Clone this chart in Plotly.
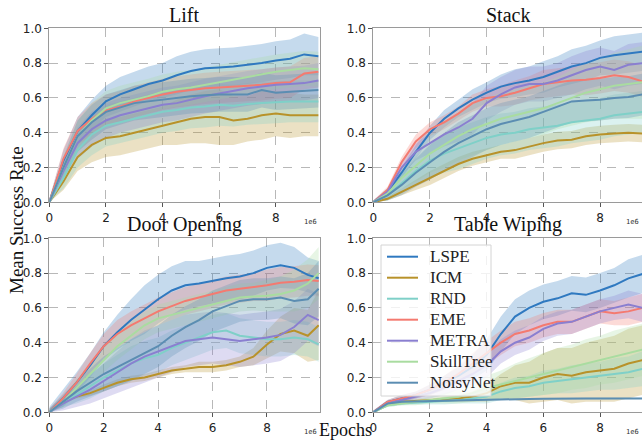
import plotly.graph_objects as go

# ---------------- data ----------------
methods = ["LSPE", "ICM", "RND", "EME", "METRA", "SkillTree", "NoisyNet"]
colors = ["#2f79c0", "#b8922a", "#7fd0c8", "#f47a70", "#8a7fd0", "#a9dca0", "#5b8db2"]

x_common = [0, 0.5, 1, 1.5, 2, 2.5, 3, 3.5, 4, 4.5, 5, 5.5, 6, 6.5, 7, 7.5, 8, 8.5, 9, 9.5]
x_door = [0, 0.5, 1, 1.5, 2, 2.5, 3, 3.5, 4, 4.5, 5, 5.5, 6, 6.5, 7, 7.5, 8, 8.5, 9, 9.5, 9.9]

# Lift
lift_mean = {
    "LSPE":      [0, 0.24, 0.41, 0.50, 0.58, 0.62, 0.65, 0.68, 0.70, 0.73, 0.755, 0.77, 0.775, 0.78, 0.79, 0.80, 0.815, 0.825, 0.85, 0.84],
    "ICM":       [0, 0.12, 0.26, 0.33, 0.37, 0.38, 0.40, 0.42, 0.44, 0.46, 0.48, 0.49, 0.49, 0.47, 0.48, 0.50, 0.51, 0.50, 0.50, 0.50],
    "RND":       [0, 0.14, 0.30, 0.39, 0.44, 0.46, 0.48, 0.50, 0.52, 0.53, 0.545, 0.55, 0.56, 0.555, 0.565, 0.57, 0.575, 0.58, 0.58, 0.58],
    "EME":       [0, 0.25, 0.41, 0.48, 0.53, 0.55, 0.58, 0.60, 0.62, 0.635, 0.645, 0.655, 0.66, 0.665, 0.67, 0.675, 0.685, 0.69, 0.74, 0.75],
    "METRA":     [0, 0.18, 0.34, 0.42, 0.47, 0.50, 0.52, 0.54, 0.56, 0.57, 0.59, 0.61, 0.625, 0.64, 0.655, 0.665, 0.675, 0.68, 0.685, 0.70],
    "SkillTree": [0, 0.20, 0.38, 0.47, 0.54, 0.57, 0.59, 0.61, 0.635, 0.65, 0.66, 0.675, 0.69, 0.705, 0.72, 0.735, 0.75, 0.76, 0.77, 0.765],
    "NoisyNet":  [0, 0.20, 0.38, 0.46, 0.52, 0.545, 0.57, 0.58, 0.59, 0.60, 0.61, 0.615, 0.62, 0.62, 0.62, 0.645, 0.63, 0.635, 0.64, 0.645],
}
lift_std = {
    "LSPE":      [0.02, 0.06, 0.08, 0.09, 0.09, 0.10, 0.10, 0.10, 0.10, 0.11, 0.11, 0.11, 0.11, 0.11, 0.11, 0.11, 0.11, 0.11, 0.12, 0.11],
    "ICM":       [0.01, 0.05, 0.08, 0.10, 0.11, 0.11, 0.11, 0.11, 0.11, 0.13, 0.14, 0.15, 0.16, 0.14, 0.13, 0.14, 0.13, 0.13, 0.12, 0.12],
    "RND":       [0.01, 0.06, 0.10, 0.12, 0.12, 0.12, 0.12, 0.12, 0.12, 0.12, 0.12, 0.12, 0.12, 0.12, 0.12, 0.12, 0.12, 0.12, 0.12, 0.12],
    "EME":       [0.02, 0.06, 0.08, 0.09, 0.09, 0.09, 0.09, 0.09, 0.09, 0.09, 0.09, 0.09, 0.09, 0.09, 0.09, 0.09, 0.09, 0.09, 0.09, 0.09],
    "METRA":     [0.02, 0.06, 0.09, 0.10, 0.10, 0.10, 0.10, 0.10, 0.10, 0.10, 0.10, 0.10, 0.10, 0.10, 0.10, 0.10, 0.10, 0.10, 0.10, 0.10],
    "SkillTree": [0.02, 0.06, 0.09, 0.10, 0.10, 0.10, 0.10, 0.10, 0.10, 0.10, 0.10, 0.10, 0.10, 0.10, 0.10, 0.10, 0.10, 0.10, 0.10, 0.10],
    "NoisyNet":  [0.02, 0.06, 0.09, 0.10, 0.10, 0.10, 0.10, 0.10, 0.10, 0.10, 0.10, 0.10, 0.10, 0.10, 0.10, 0.10, 0.10, 0.10, 0.10, 0.10],
}

# Stack
stack_mean = {
    "LSPE":      [0, 0.06, 0.17, 0.29, 0.40, 0.48, 0.54, 0.59, 0.63, 0.665, 0.685, 0.70, 0.72, 0.75, 0.78, 0.80, 0.83, 0.845, 0.855, 0.865],
    "ICM":       [0, 0.02, 0.06, 0.10, 0.14, 0.18, 0.22, 0.25, 0.27, 0.29, 0.30, 0.32, 0.34, 0.355, 0.36, 0.38, 0.39, 0.395, 0.40, 0.395],
    "RND":       [0, 0.04, 0.11, 0.18, 0.24, 0.28, 0.31, 0.34, 0.37, 0.39, 0.40, 0.42, 0.43, 0.44, 0.46, 0.47, 0.48, 0.50, 0.51, 0.52],
    "EME":       [0, 0.07, 0.23, 0.35, 0.42, 0.46, 0.51, 0.57, 0.60, 0.61, 0.63, 0.655, 0.68, 0.69, 0.70, 0.705, 0.715, 0.73, 0.72, 0.695],
    "METRA":     [0, 0.06, 0.20, 0.29, 0.34, 0.39, 0.43, 0.48, 0.57, 0.62, 0.66, 0.68, 0.68, 0.70, 0.73, 0.76, 0.78, 0.76, 0.79, 0.80],
    "SkillTree": [0, 0.05, 0.14, 0.21, 0.28, 0.33, 0.38, 0.42, 0.45, 0.48, 0.50, 0.52, 0.54, 0.57, 0.60, 0.63, 0.65, 0.67, 0.68, 0.69],
    "NoisyNet":  [0, 0.04, 0.10, 0.17, 0.23, 0.29, 0.34, 0.38, 0.42, 0.45, 0.47, 0.49, 0.52, 0.55, 0.58, 0.585, 0.59, 0.60, 0.605, 0.62],
}
stack_std = {
    "LSPE":      [0.01, 0.02, 0.03, 0.04, 0.04, 0.05, 0.05, 0.06, 0.06, 0.07, 0.08, 0.08, 0.09, 0.09, 0.10, 0.10, 0.10, 0.11, 0.11, 0.11],
    "ICM":       [0.005, 0.01, 0.02, 0.03, 0.04, 0.04, 0.04, 0.04, 0.04, 0.04, 0.05, 0.05, 0.05, 0.05, 0.05, 0.05, 0.05, 0.05, 0.05, 0.05],
    "RND":       [0.01, 0.03, 0.06, 0.08, 0.10, 0.11, 0.12, 0.12, 0.12, 0.12, 0.12, 0.12, 0.12, 0.12, 0.12, 0.12, 0.12, 0.12, 0.12, 0.12],
    "EME":       [0.01, 0.02, 0.03, 0.04, 0.04, 0.04, 0.04, 0.05, 0.05, 0.06, 0.07, 0.07, 0.08, 0.08, 0.08, 0.09, 0.09, 0.09, 0.09, 0.09],
    "METRA":     [0.01, 0.02, 0.04, 0.05, 0.06, 0.07, 0.08, 0.09, 0.10, 0.10, 0.10, 0.10, 0.10, 0.10, 0.11, 0.11, 0.11, 0.11, 0.12, 0.12],
    "SkillTree": [0.01, 0.03, 0.06, 0.09, 0.11, 0.13, 0.14, 0.15, 0.15, 0.15, 0.15, 0.15, 0.15, 0.15, 0.16, 0.17, 0.18, 0.19, 0.20, 0.21],
    "NoisyNet":  [0.01, 0.03, 0.06, 0.08, 0.10, 0.11, 0.12, 0.12, 0.12, 0.12, 0.12, 0.12, 0.12, 0.12, 0.12, 0.12, 0.12, 0.12, 0.12, 0.12],
}

# Door Opening
door_mean = {
    "LSPE":      [0, 0.08, 0.17, 0.27, 0.38, 0.46, 0.53, 0.59, 0.65, 0.70, 0.73, 0.74, 0.755, 0.77, 0.78, 0.80, 0.83, 0.845, 0.83, 0.79, 0.77],
    "ICM":       [0, 0.06, 0.09, 0.11, 0.14, 0.17, 0.19, 0.20, 0.22, 0.24, 0.25, 0.26, 0.26, 0.27, 0.29, 0.32, 0.39, 0.45, 0.47, 0.44, 0.50],
    "RND":       [0, 0.06, 0.10, 0.15, 0.20, 0.24, 0.28, 0.31, 0.33, 0.37, 0.40, 0.43, 0.46, 0.47, 0.44, 0.43, 0.42, 0.42, 0.43, 0.42, 0.39],
    "EME":       [0, 0.08, 0.17, 0.28, 0.38, 0.45, 0.50, 0.54, 0.58, 0.61, 0.64, 0.66, 0.68, 0.70, 0.71, 0.72, 0.73, 0.745, 0.75, 0.76, 0.755],
    "METRA":     [0, 0.05, 0.09, 0.13, 0.18, 0.23, 0.28, 0.32, 0.35, 0.38, 0.41, 0.42, 0.43, 0.42, 0.41, 0.42, 0.43, 0.445, 0.49, 0.56, 0.53],
    "SkillTree": [0, 0.06, 0.14, 0.22, 0.30, 0.38, 0.44, 0.50, 0.54, 0.56, 0.58, 0.60, 0.62, 0.64, 0.66, 0.665, 0.67, 0.68, 0.70, 0.74, 0.80],
    "NoisyNet":  [0, 0.06, 0.12, 0.17, 0.22, 0.26, 0.30, 0.34, 0.38, 0.44, 0.49, 0.53, 0.58, 0.61, 0.64, 0.65, 0.65, 0.66, 0.64, 0.65, 0.71],
}
door_std = {
    "LSPE":      [0.03, 0.05, 0.06, 0.07, 0.08, 0.10, 0.12, 0.14, 0.14, 0.14, 0.14, 0.13, 0.13, 0.13, 0.13, 0.13, 0.13, 0.13, 0.12, 0.10, 0.10],
    "ICM":       [0.005, 0.01, 0.01, 0.015, 0.02, 0.02, 0.02, 0.02, 0.02, 0.02, 0.02, 0.03, 0.03, 0.03, 0.03, 0.05, 0.08, 0.10, 0.13, 0.15, 0.20],
    "RND":       [0.02, 0.03, 0.05, 0.07, 0.08, 0.09, 0.10, 0.10, 0.10, 0.10, 0.10, 0.10, 0.10, 0.10, 0.10, 0.10, 0.10, 0.10, 0.10, 0.10, 0.10],
    "EME":       [0.02, 0.03, 0.05, 0.06, 0.07, 0.08, 0.08, 0.08, 0.08, 0.08, 0.08, 0.08, 0.08, 0.08, 0.08, 0.08, 0.09, 0.09, 0.09, 0.09, 0.09],
    "METRA":     [0.02, 0.04, 0.06, 0.08, 0.10, 0.12, 0.14, 0.15, 0.15, 0.15, 0.15, 0.15, 0.15, 0.15, 0.15, 0.15, 0.15, 0.15, 0.15, 0.15, 0.15],
    "SkillTree": [0.02, 0.03, 0.05, 0.06, 0.07, 0.08, 0.08, 0.08, 0.08, 0.08, 0.08, 0.08, 0.08, 0.08, 0.08, 0.08, 0.09, 0.10, 0.12, 0.14, 0.15],
    "NoisyNet":  [0.02, 0.04, 0.06, 0.08, 0.10, 0.11, 0.12, 0.12, 0.12, 0.12, 0.12, 0.12, 0.12, 0.12, 0.12, 0.12, 0.12, 0.12, 0.13, 0.15, 0.16],
}

# Table Wiping
wipe_mean = {
    "LSPE":      [0, 0.06, 0.08, 0.10, 0.13, 0.17, 0.21, 0.26, 0.33, 0.45, 0.55, 0.60, 0.635, 0.655, 0.684, 0.675, 0.70, 0.73, 0.77, 0.795],
    "ICM":       [0, 0.05, 0.06, 0.065, 0.07, 0.075, 0.08, 0.09, 0.11, 0.15, 0.17, 0.17, 0.20, 0.22, 0.21, 0.23, 0.24, 0.25, 0.28, 0.30],
    "RND":       [0, 0.04, 0.05, 0.055, 0.06, 0.065, 0.07, 0.08, 0.09, 0.12, 0.14, 0.15, 0.17, 0.18, 0.19, 0.20, 0.21, 0.22, 0.23, 0.25],
    "EME":       [0, 0.06, 0.08, 0.10, 0.13, 0.17, 0.22, 0.28, 0.34, 0.40, 0.45, 0.47, 0.50, 0.52, 0.52, 0.55, 0.58, 0.57, 0.58, 0.60],
    "METRA":     [0, 0.05, 0.07, 0.09, 0.11, 0.14, 0.18, 0.22, 0.27, 0.35, 0.40, 0.43, 0.48, 0.51, 0.52, 0.55, 0.58, 0.60, 0.62, 0.60],
    "SkillTree": [0, 0.04, 0.05, 0.06, 0.07, 0.08, 0.09, 0.11, 0.14, 0.16, 0.18, 0.20, 0.22, 0.24, 0.26, 0.28, 0.30, 0.32, 0.34, 0.36],
    "NoisyNet":  [0, 0.05, 0.06, 0.062, 0.065, 0.068, 0.07, 0.072, 0.075, 0.075, 0.075, 0.077, 0.078, 0.08, 0.08, 0.08, 0.08, 0.08, 0.08, 0.08],
}
wipe_std = {
    "LSPE":      [0.01, 0.01, 0.02, 0.02, 0.03, 0.04, 0.05, 0.07, 0.09, 0.10, 0.10, 0.10, 0.10, 0.10, 0.10, 0.10, 0.10, 0.10, 0.11, 0.11],
    "ICM":       [0.005, 0.01, 0.01, 0.01, 0.01, 0.015, 0.02, 0.03, 0.05, 0.07, 0.10, 0.12, 0.14, 0.15, 0.16, 0.17, 0.18, 0.19, 0.20, 0.20],
    "RND":       [0.005, 0.01, 0.01, 0.01, 0.015, 0.02, 0.02, 0.03, 0.04, 0.05, 0.06, 0.06, 0.07, 0.07, 0.08, 0.08, 0.08, 0.09, 0.09, 0.10],
    "EME":       [0.01, 0.01, 0.02, 0.02, 0.03, 0.04, 0.05, 0.06, 0.07, 0.07, 0.07, 0.07, 0.07, 0.07, 0.07, 0.07, 0.07, 0.07, 0.08, 0.08],
    "METRA":     [0.01, 0.01, 0.02, 0.02, 0.03, 0.04, 0.05, 0.06, 0.07, 0.07, 0.07, 0.07, 0.07, 0.07, 0.07, 0.07, 0.07, 0.07, 0.08, 0.08],
    "SkillTree": [0.005, 0.01, 0.01, 0.02, 0.02, 0.03, 0.04, 0.05, 0.07, 0.08, 0.10, 0.11, 0.12, 0.13, 0.13, 0.14, 0.14, 0.15, 0.15, 0.15],
    "NoisyNet":  [0.002, 0.004, 0.004, 0.004, 0.004, 0.004, 0.004, 0.004, 0.004, 0.004, 0.004, 0.004, 0.004, 0.004, 0.004, 0.004, 0.004, 0.004, 0.004, 0.004],
}

panel_titles = ["Lift", "Stack", "Door Opening", "Table Wiping"]
panel_x = [x_common, x_common, x_door, x_common]
panel_means = [lift_mean, stack_mean, door_mean, wipe_mean]
panel_stds = [lift_std, stack_std, door_std, wipe_std]
x_ticks = [0, 2, 4, 6, 8]
y_ticks = [0.0, 0.2, 0.4, 0.6, 0.8, 1.0]

# ---------------- layout geometry ----------------
W, H = 642, 440
col_dom = [[49.3 / W, 319.5 / W], [373.3 / W, 1.0]]
row_dom = [[1 - 202.3 / H, 1 - 28.3 / H], [1 - 412.3 / H, 1 - 238.3 / H]]
x_ranges = [[0, 9.54], [0, 9.48], [0, 9.93], [0, 9.48]]


def rgba(hexc, a):
    h = hexc.lstrip("#")
    r, g, b = int(h[0:2], 16), int(h[2:4], 16), int(h[4:6], 16)
    return f"rgba({r},{g},{b},{a})"


fig = go.Figure()

for p in range(4):
    xa = "x" if p == 0 else f"x{p + 1}"
    ya = "y" if p == 0 else f"y{p + 1}"
    xs = panel_x[p]
    # shaded bands first
    for m, c in zip(methods, colors):
        mu = panel_means[p][m]
        sd = panel_stds[p][m]
        up = [a + b for a, b in zip(mu, sd)]
        lo = [max(a - b, 0) for a, b in zip(mu, sd)]
        fig.add_trace(go.Scatter(
            x=xs + xs[::-1], y=up + lo[::-1], xaxis=xa, yaxis=ya,
            mode="lines", line=dict(width=0, color=c), fill="toself",
            fillcolor=rgba(c, 0.28), hoverinfo="skip", showlegend=False))
    # mean lines on top
    for m, c in zip(methods, colors):
        fig.add_trace(go.Scatter(
            x=xs, y=panel_means[p][m], xaxis=xa, yaxis=ya, mode="lines", name=m,
            line=dict(color=c, width=2), showlegend=False))

axis_common = dict(
    showline=True, mirror=True, linecolor="#9a9a9a", linewidth=1,
    showgrid=True, gridcolor="#b8b8b8", griddash="dash", gridwidth=1,
    ticks="outside", ticklen=4, tickcolor="#555", zeroline=False,
    automargin=False,
    tickfont=dict(family="DejaVu Sans", size=12, color="#222"),
)

layout = dict(
    width=W, height=H, margin=dict(l=0, r=0, t=0, b=0, pad=0),
    paper_bgcolor="white", plot_bgcolor="white",
    showlegend=False,
)
annotations = []
shapes = []
for p in range(4):
    r, cidx = divmod(p, 2)
    xk = "xaxis" if p == 0 else f"xaxis{p + 1}"
    yk = "yaxis" if p == 0 else f"yaxis{p + 1}"
    xa = "x" if p == 0 else f"x{p + 1}"
    ya = "y" if p == 0 else f"y{p + 1}"
    layout[xk] = dict(axis_common, domain=col_dom[cidx], range=x_ranges[p],
                      tickvals=x_ticks, anchor=ya)
    layout[yk] = dict(axis_common, domain=row_dom[r], range=[0, 1],
                      tickvals=y_ticks, tickformat=".1f", anchor=xa)
    xc = (col_dom[cidx][0] + col_dom[cidx][1]) / 2
    annotations.append(dict(
        text=panel_titles[p], x=xc, y=row_dom[r][1], xref="paper", yref="paper",
        xanchor="center", yanchor="bottom", yshift=0, showarrow=False,
        font=dict(family="Liberation Serif", size=20, color="#111")))
    annotations.append(dict(
        text="1e6", x=col_dom[cidx][1], y=row_dom[r][0], xref="paper", yref="paper",
        xanchor="right", yanchor="middle", yshift=-20, xshift=-1, showarrow=False,
        font=dict(family="DejaVu Sans Mono", size=7, color="#333")))

annotations.append(dict(
    text="Mean Success Rate", x=16 / W, y=1 - 220 / H, xref="paper", yref="paper",
    textangle=-90, showarrow=False, xanchor="center", yanchor="middle",
    font=dict(family="Liberation Serif", size=19, color="#111")))
annotations.append(dict(
    text="Epochs", x=346 / W, y=1 - 430 / H, xref="paper", yref="paper",
    showarrow=False, xanchor="center", yanchor="middle",
    font=dict(family="Liberation Serif", size=18, color="#111")))

# ---- legend box (drawn like a matplotlib legend inside the Table Wiping panel) ----
leg_left, leg_right, leg_top, leg_bottom = 381, 491, 245, 396
shapes.append(dict(type="rect", xref="paper", yref="paper", layer="above",
                   x0=leg_left / W, x1=leg_right / W, y0=1 - leg_bottom / H, y1=1 - leg_top / H,
                   fillcolor="rgba(255,255,255,0.8)", line=dict(color="#d4d4d4", width=1)))
row0, row_gap = 256.7, 21.0
for i, (m, c) in enumerate(zip(methods, colors)):
    yy = 1 - (row0 + i * row_gap) / H
    shapes.append(dict(type="line", xref="paper", yref="paper", layer="above",
                       x0=387 / W, x1=418 / W, y0=yy, y1=yy, line=dict(color=c, width=2)))
    annotations.append(dict(text=m, x=428 / W, y=yy, xref="paper", yref="paper",
                            xanchor="left", yanchor="middle", showarrow=False,
                            font=dict(family="Liberation Serif", size=17, color="#222")))

layout["annotations"] = annotations
layout["shapes"] = shapes
fig.update_layout(**layout)
fig.write_html("out.html", config={"displayModeBar": False},
               post_script="document.body.style.margin='0px';document.body.style.overflow='hidden';")
